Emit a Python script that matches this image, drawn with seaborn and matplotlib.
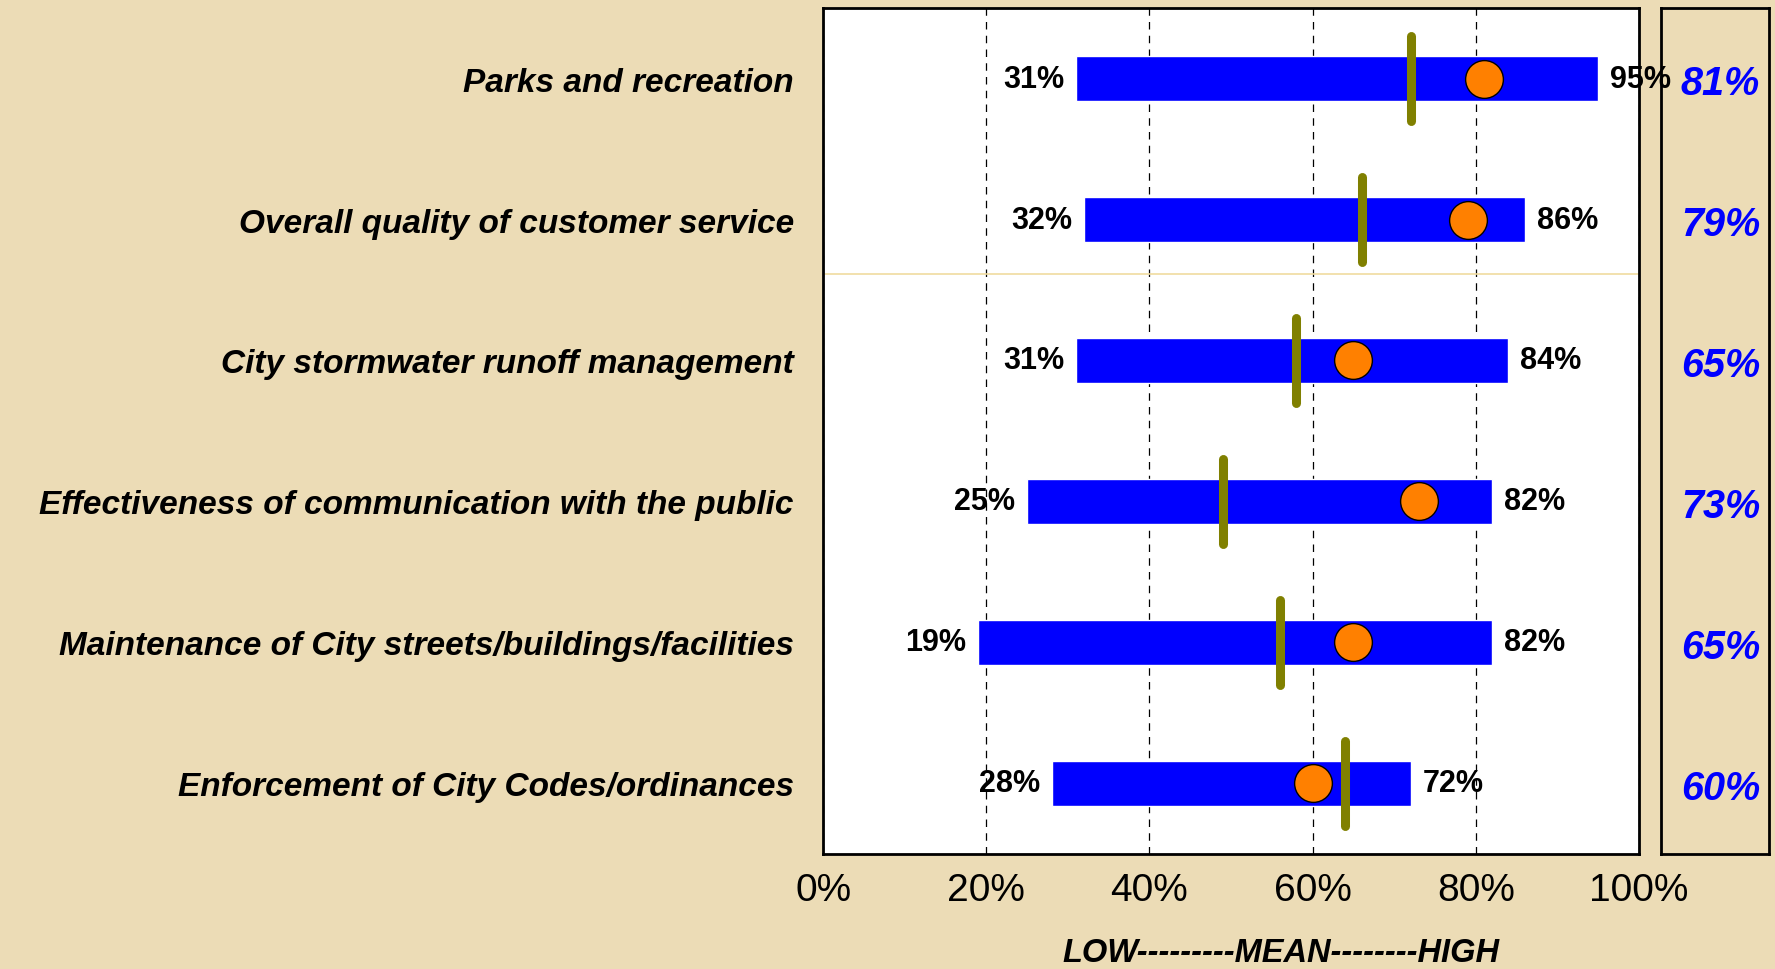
import matplotlib
matplotlib.use("Agg")
import matplotlib.pyplot as plt
import seaborn as sns
import pandas as pd

# Survey items, top to bottom
categories = [
    "Parks and recreation",
    "Overall quality of customer service",
    "City stormwater runoff management",
    "Effectiveness of communication with the public",
    "Maintenance of City streets/buildings/facilities",
    "Enforcement of City Codes/ordinances",
]
low = [31, 32, 31, 25, 19, 28]
high = [95, 86, 84, 82, 82, 72]
mean = [72, 66, 58, 49, 56, 64]
city = [81, 79, 65, 73, 65, 60]

df = pd.DataFrame({"item": categories, "low": low, "high": high,
                   "mean": mean, "city": city})
df["pos"] = range(len(df))

sns.set_theme(style="white")
plt.rcParams['font.family'] = ['Liberation Sans', 'DejaVu Sans']
plt.rcParams['text.color'] = 'black'
plt.rcParams['xtick.color'] = 'black'
plt.rcParams['ytick.color'] = 'black'
plt.rcParams['axes.labelcolor'] = 'black'

PARCHMENT = "#ecdcb6"
BLUE = "#0000ff"
ORANGE = "#ff8000"
OLIVE = "#808000"

fig = plt.figure(figsize=(17.75, 9.7), dpi=100, facecolor=PARCHMENT)
ax = fig.add_axes([0.4637, 0.1186, 0.4597, 0.8721])
ax.set_facecolor("white")

# range bars low -> high
ax.barh(df["pos"], df["high"] - df["low"], left=df["low"], height=0.32,
        color=BLUE, zorder=2)

# mean markers (vertical olive sticks)
for _, r in df.iterrows():
    ax.plot([r["mean"], r["mean"]], [r["pos"] - 0.3, r["pos"] + 0.3],
            color=OLIVE, lw=6.5, solid_capstyle="round", zorder=3)

# city score dots
sns.scatterplot(data=df, x="city", y="pos", ax=ax, s=740, color=ORANGE,
                edgecolor="black", linewidth=1, zorder=4, legend=False)

# low / high labels
for _, r in df.iterrows():
    ax.annotate(f"{r['low']}%", (r["low"], r["pos"]), xytext=(-8.5, 0),
                textcoords="offset points", ha="right", va="center",
                fontsize=22, fontweight="bold", color="black", zorder=5)
    ax.annotate(f"{r['high']}%", (r["high"], r["pos"]), xytext=(8.5, 0),
                textcoords="offset points", ha="left", va="center",
                fontsize=22, fontweight="bold", color="black", zorder=5,
                annotation_clip=False)

ax.axhline(1.385, color="#f0dca0", lw=1.2, zorder=1)

ax.set_xlim(0, 100)
ax.set_ylim(len(df) - 0.5, -0.5)
ax.set_xticks(range(0, 101, 20))
ax.set_xticklabels([f"{v}%" for v in range(0, 101, 20)], fontsize=28)
ax.set_yticks(df["pos"])
ax.set_yticklabels(df["item"], fontsize=24, fontweight="bold", style="italic")
ax.tick_params(axis="x", length=0, pad=13)
ax.tick_params(axis="y", length=0, pad=21)
ax.xaxis.grid(True, color="black", lw=0.9, linestyle=(0, (6, 5)), zorder=0)
ax.set_axisbelow(True)
ax.set_xlabel("")
ax.set_ylabel("")
for sp in ax.spines.values():
    sp.set_color("black")
    sp.set_linewidth(2)

# right-hand box with city scores
ax2 = fig.add_axes([0.9358, 0.1186, 0.0608, 0.8721])
ax2.set_facecolor("none")
ax2.set_ylim(len(df) - 0.5, -0.5)
ax2.set_xlim(0, 1)
ax2.set_xticks([])
ax2.set_yticks([])
for sp in ax2.spines.values():
    sp.set_color("black")
    sp.set_linewidth(2)
for _, r in df.iterrows():
    ax2.text(0.55, r["pos"] + 0.03, f"{r['city']}%", ha="center", va="center",
             fontsize=28.5, fontweight="bold", style="italic", color=BLUE)

fig.text(0.7218, 0.001, "LOW---------MEAN--------HIGH", ha="center",
         va="bottom", fontsize=23.5, fontweight="bold", style="italic",
         color="black")

fig.savefig("out.png", dpi=100, facecolor=fig.get_facecolor())
